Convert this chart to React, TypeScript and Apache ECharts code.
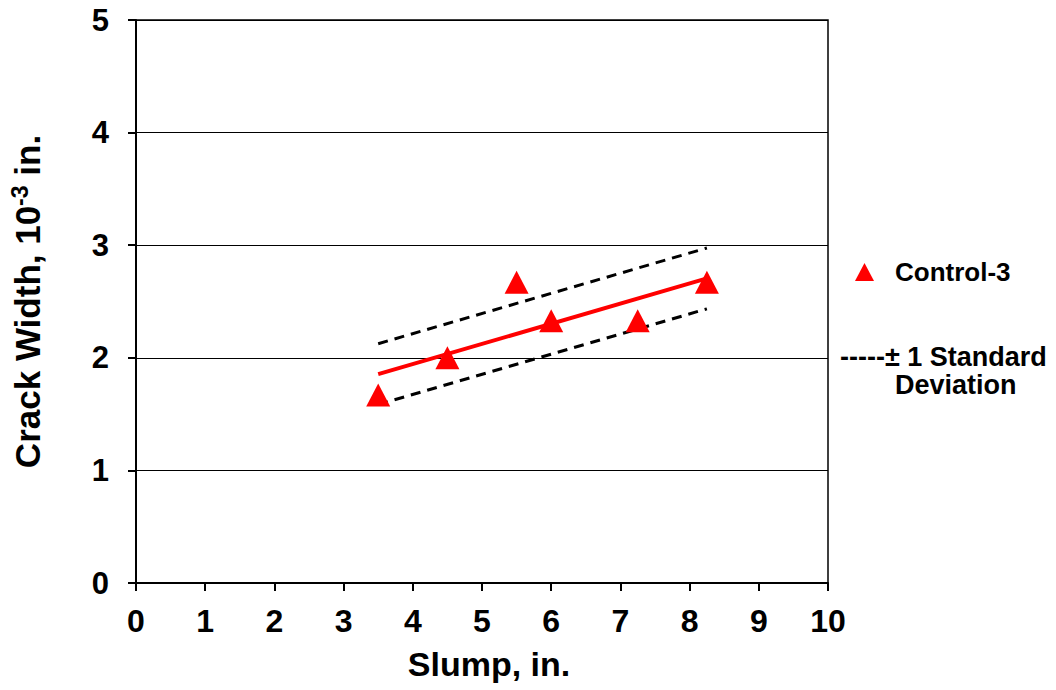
import React, { useEffect, useRef } from "react";
import * as echarts from "echarts";

const slump = [3.5, 4.5, 5.5, 6.0, 7.25, 8.25];
const crackWidth = [1.67, 2.0, 2.67, 2.33, 2.33, 2.67];
const trendX = [3.5, 8.25];
const trendY = [1.855, 2.705];
const upperY = [2.125, 2.975];
const lowerY = [1.585, 2.435];
const xTicks = [0, 1, 2, 3, 4, 5, 6, 7, 8, 9, 10];
const yTicks = [0, 1, 2, 3, 4, 5];

const FONT = "'Liberation Sans', Arial, sans-serif";

export default function App() {
  const ref = useRef<HTMLDivElement>(null);
  useEffect(() => {
    if (!ref.current) return;
    const chart = echarts.init(ref.current, undefined, { renderer: "svg" });
    const pts = slump.map((x, i) => [x, crackWidth[i]]);
    const line = (ys: number[]) => trendX.map((x, i) => [x, ys[i]]);
    chart.setOption({
      animation: false,
      backgroundColor: "#fff",
      grid: {
        left: 133,
        top: 20,
        width: 695,
        height: 563,
        show: true,
        borderColor: "#000",
        borderWidth: 1.5,
      },
      xAxis: {
        type: "value",
        min: xTicks[0],
        max: xTicks[xTicks.length - 1],
        interval: 1,
        name: "Slump, in.",
        nameLocation: "middle",
        nameGap: 64,
        nameTextStyle: { fontFamily: FONT, fontWeight: "bold", fontSize: 34, color: "#000", padding: [0, 0, 0, 14] },
        axisLine: { lineStyle: { color: "#000", width: 2 } },
        axisTick: { show: true, inside: false, length: 8, lineStyle: { color: "#000", width: 2 } },
        axisLabel: { fontFamily: FONT, fontWeight: "bold", fontSize: 32, color: "#000", margin: 22 },
        splitLine: { show: false },
      },
      yAxis: {
        type: "value",
        min: yTicks[0],
        max: yTicks[yTicks.length - 1],
        interval: 1,
        name: "Crack Width, 10{sup|-3} in.",
        nameLocation: "middle",
        nameGap: 90,
        nameTextStyle: {
          fontFamily: FONT,
          fontWeight: "bold",
          fontSize: 35,
          color: "#000",
          rich: {
            sup: {
              fontFamily: FONT,
              fontWeight: "bold",
              fontSize: 23,
              color: "#000",
              padding: [0, 0, 15, 0],
            },
          },
        },
        axisLine: { show: true, lineStyle: { color: "#000", width: 2 } },
        axisTick: { show: true, inside: false, length: 8, lineStyle: { color: "#000", width: 2 } },
        axisLabel: { fontFamily: FONT, fontWeight: "bold", fontSize: 31, color: "#000", margin: 27 },
        splitLine: { show: true, lineStyle: { color: "#000", width: 1 } },
      },
      legend: {
        data: [{ name: "Control-3", icon: "triangle" }],
        left: 850,
        top: 254,
        itemWidth: 19,
        itemHeight: 18,
        itemGap: 10,
        textStyle: { fontFamily: FONT, fontWeight: "bold", fontSize: 26, color: "#000", padding: [0, 0, 0, 16] },
      },
      graphic: [
        {
          type: "text",
          left: 840,
          top: 343,
          style: {
            text: "-----± 1 Standard",
            font: `bold 27px ${FONT}`,
            fill: "#000",
          },
        },
        {
          type: "text",
          left: 895,
          top: 371,
          style: {
            text: "Deviation",
            font: `bold 27px ${FONT}`,
            fill: "#000",
          },
        },
      ],
      series: [
        {
          name: "Upper",
          type: "line",
          data: line(upperY),
          symbol: "none",
          lineStyle: { color: "#000", width: 3, type: [10, 7] },
          z: 2,
        },
        {
          name: "Lower",
          type: "line",
          data: line(lowerY),
          symbol: "none",
          lineStyle: { color: "#000", width: 3, type: [10, 7] },
          z: 2,
        },
        {
          name: "Trend",
          type: "line",
          data: line(trendY),
          symbol: "none",
          lineStyle: { color: "#ff0000", width: 4 },
          z: 3,
        },
        {
          name: "Control-3",
          type: "scatter",
          data: pts,
          symbol: "triangle",
          symbolSize: [24, 23],
          itemStyle: { color: "#ff0000", opacity: 1 },
          emphasis: { disabled: true },
          z: 4,
        },
      ],
    });
    return () => chart.dispose();
  }, []);
  return (
    <div
      ref={ref}
      style={{ position: "absolute", left: 0, top: 0, width: 1056, height: 690 }}
    />
  );
}
